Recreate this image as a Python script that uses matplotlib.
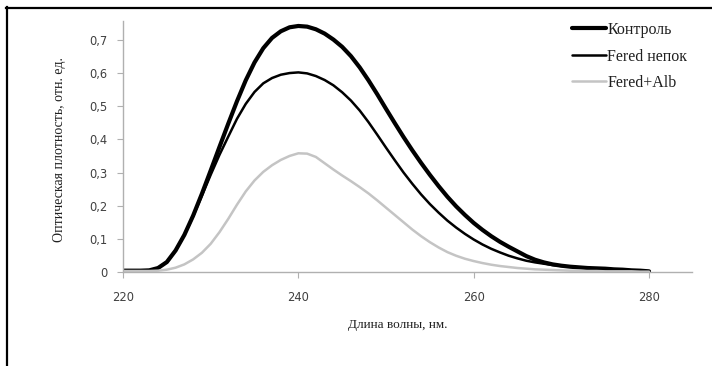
import matplotlib
matplotlib.use("Agg")
import matplotlib.pyplot as plt
from matplotlib.lines import Line2D

# wavelength, nm
wavelength = list(range(220, 281))

# optical density, rel. units
control = [0.004, 0.004, 0.004, 0.005, 0.012, 0.030, 0.065, 0.112, 0.170, 0.236,
           0.306, 0.377, 0.447, 0.515, 0.578, 0.632, 0.675, 0.706, 0.726, 0.738,
           0.742, 0.740, 0.732, 0.719, 0.701, 0.679, 0.651, 0.617, 0.578, 0.536,
           0.492, 0.449, 0.407, 0.367, 0.329, 0.293, 0.259, 0.227, 0.198, 0.172,
           0.148, 0.127, 0.108, 0.091, 0.076, 0.062, 0.048, 0.037, 0.029, 0.023,
           0.019, 0.016, 0.014, 0.012, 0.011, 0.010, 0.008, 0.007, 0.005, 0.004,
           0.002]
fered = [0.004, 0.004, 0.004, 0.005, 0.012, 0.030, 0.065, 0.112, 0.168, 0.230,
         0.293, 0.353, 0.408, 0.462, 0.507, 0.543, 0.569, 0.585, 0.595, 0.600,
         0.602, 0.599, 0.591, 0.579, 0.563, 0.542, 0.517, 0.487, 0.452, 0.414,
         0.375, 0.337, 0.300, 0.266, 0.234, 0.205, 0.179, 0.155, 0.134, 0.115,
         0.098, 0.083, 0.070, 0.059, 0.049, 0.041, 0.034, 0.029, 0.025, 0.021,
         0.018, 0.016, 0.014, 0.012, 0.010, 0.009, 0.008, 0.007, 0.005, 0.004,
         0.002]
fered_alb = [0.003, 0.003, 0.003, 0.003, 0.004, 0.007, 0.013, 0.023, 0.038, 0.058,
             0.085, 0.120, 0.160, 0.203, 0.243, 0.276, 0.302, 0.322, 0.338, 0.350,
             0.358, 0.357, 0.347, 0.328, 0.309, 0.291, 0.274, 0.256, 0.237, 0.216,
             0.194, 0.172, 0.150, 0.128, 0.108, 0.090, 0.074, 0.060, 0.049, 0.040,
             0.033, 0.027, 0.022, 0.018, 0.015, 0.012, 0.010, 0.008, 0.007, 0.006,
             0.005, 0.004, 0.004, 0.003, 0.003, 0.002, 0.002, 0.002, 0.002, 0.001,
             0.001]

labels = ["Контроль", "Fered непок", "Fered+Alb"]
x_ticks = [220, 240, 260, 280]
y_ticks = [0, 0.1, 0.2, 0.3, 0.4, 0.5, 0.6, 0.7]
y_ticklabels = ["0", "0,1", "0,2", "0,3", "0,4", "0,5", "0,6", "0,7"]

W, H = 712, 366
fig = plt.figure(figsize=(W / 100, H / 100), dpi=100)
ax = fig.add_axes([123 / W, 94 / H, (692 - 123) / W, (272 - 21) / H])

ax.plot(wavelength, control, color="black", lw=3.0, label=labels[0],
        solid_capstyle="round", solid_joinstyle="round")
ax.plot(wavelength, fered, color="black", lw=1.8, label=labels[1],
        solid_capstyle="round", solid_joinstyle="round")
ax.plot(wavelength, fered_alb, color="#c4c4c4", lw=1.8, label=labels[2],
        solid_capstyle="round", solid_joinstyle="round")

ax.set_xlim(220, 284.9)
ax.set_ylim(0, 0.757)
ax.set_xticks(x_ticks)
ax.set_yticks(y_ticks)
ax.set_yticklabels(y_ticklabels)

for s in ("top", "right"):
    ax.spines[s].set_visible(False)
for s in ("left", "bottom"):
    ax.spines[s].set_color("#b0b0b0")
    ax.spines[s].set_linewidth(1.0)
ax.tick_params(axis="both", direction="out", length=4, width=0.8,
               color="#b0b0b0", labelcolor="#404040", labelsize=8.3)
ax.tick_params(axis="y", pad=7)
ax.tick_params(axis="x", pad=10)

serif = "Liberation Serif"
fig.text(60 / W, 1 - 150 / H, "Оптическая плотность, отн. ед.", rotation=90,
         ha="center", va="center", family=serif, fontsize=10, color="#202020")
fig.text(398 / W, 1 - 325 / H, "Длина волны, нм.", ha="center", va="center",
         family=serif, fontsize=9.5, color="#202020")

leg = ax.legend(loc="upper left", bbox_to_anchor=(572 / W, 1 - 22 / H),
                bbox_transform=fig.transFigure, frameon=False,
                prop={"family": serif, "size": 11.5}, handlelength=2.1,
                handletextpad=0.1, labelspacing=0.66, borderpad=0,
                borderaxespad=0)
for t in leg.get_texts():
    t.set_color("#202020")

# outer frame of the original picture (left and top edges)
fig.add_artist(Line2D([6.5 / W, 6.5 / W], [0, 1 - 7 / H], color="black",
                      lw=1.6, transform=fig.transFigure))
fig.add_artist(Line2D([6 / W, 1], [1 - 7.5 / H, 1 - 7.5 / H], color="black",
                      lw=1.6, transform=fig.transFigure))

fig.savefig("out.png", dpi=100)
